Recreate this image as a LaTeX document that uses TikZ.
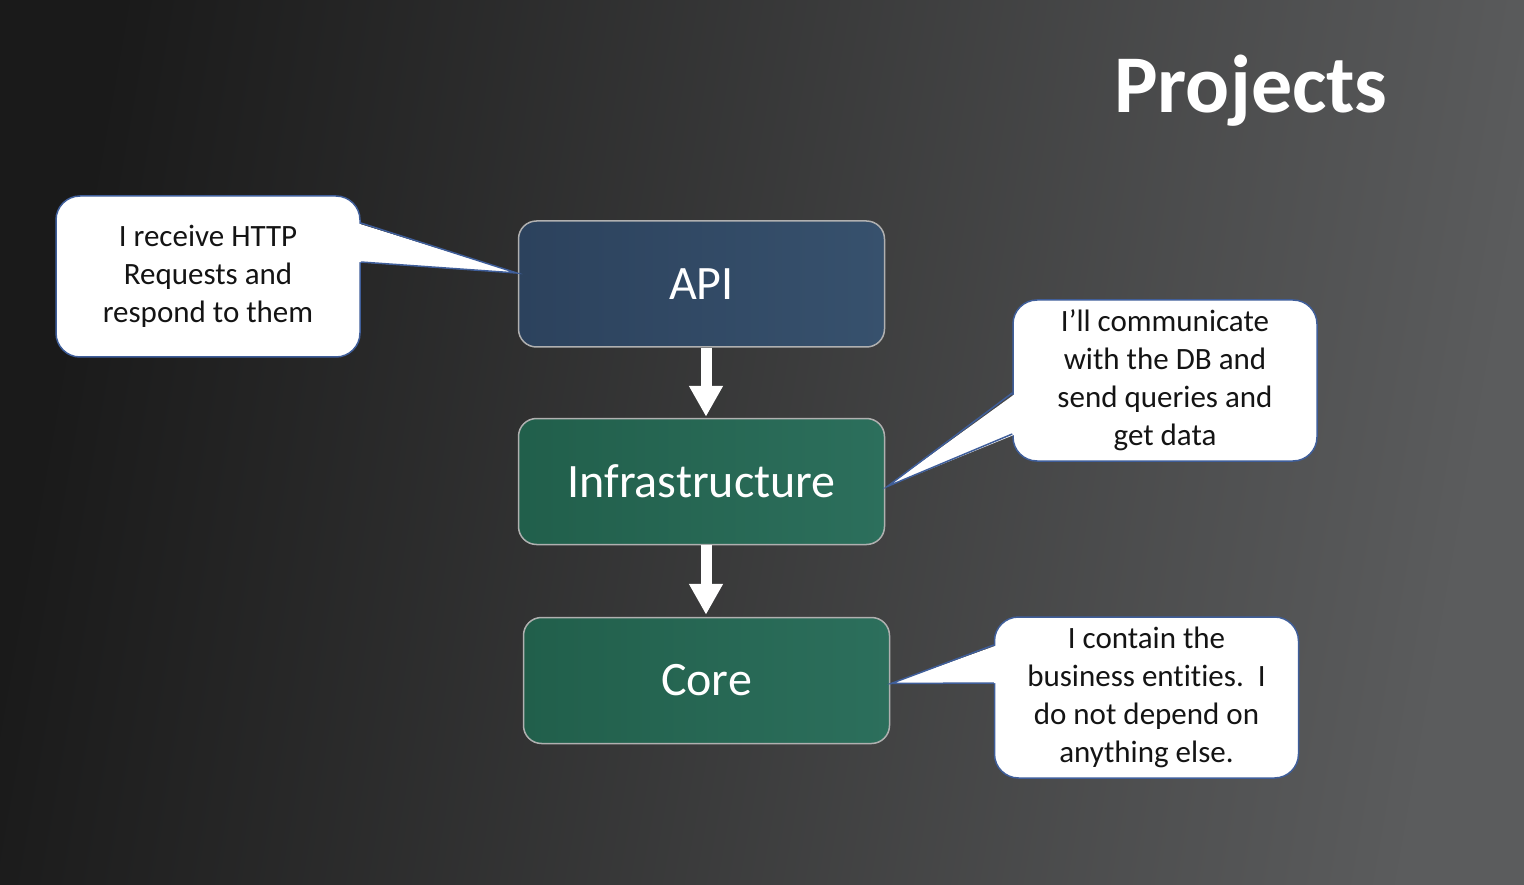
\documentclass[tikz,border=0pt]{standalone}
\usepackage{fontspec}
\setmainfont{Carlito}[Ligatures=NoCommon]
\usetikzlibrary{arrows.meta,calc}
\definecolor{bgdark}{HTML}{1A1A1A}
\definecolor{bglight}{HTML}{5B5C5D}
\definecolor{apiblue}{HTML}{2C425D}
\definecolor{apiblue2}{HTML}{37516D}
\definecolor{layergreen}{HTML}{215F4B}
\definecolor{layergreen2}{HTML}{2C6F5C}
\definecolor{boxedge}{HTML}{B0B0B0}
\definecolor{calloutedge}{HTML}{3F5E9A}
\definecolor{callouttext}{HTML}{141414}

\begin{document}
\begin{tikzpicture}[x=1pt,y=-1pt,
  layer/.style={draw=boxedge, line width=1.5pt, rounded corners=18pt,
    minimum width=366pt, minimum height=126pt, inner sep=0pt,
    text=white, font=\fontsize{48}{58}\selectfont},
  bluelayer/.style={layer, left color=apiblue, right color=apiblue2},
  greenlayer/.style={layer, left color=layergreen, right color=layergreen2},
  callout/.style={draw=calloutedge, fill=white, line width=1.5pt,
    rounded corners=24pt, minimum width=304pt, minimum height=161pt,
    inner sep=0pt, align=center, text=callouttext,
    font=\fontsize{31}{38}\selectfont},
  pointer/.style={draw=calloutedge, line width=1.5pt, line join=miter},
  flow/.style={draw=white, line width=11pt,
    -{Triangle[width=32pt,length=31pt]}}
]
% background
\shade[left color=bgdark, right color=bglight, shading angle=80]
  (0,0) rectangle (1524,885);
\useasboundingbox (0,0) rectangle (1524,885);

% title
\node[anchor=base, text=white, font=\fontsize{82}{98}\selectfont\bfseries]
  (title) at (1251,113) {Projects};

% layers
\node[bluelayer]  (api)   at (701.5,284)   {API};
\node[greenlayer] (infra) at (701.5,481.5) {Infrastructure};
\node[greenlayer] (core)  at (706.5,680.5) {Core};

% dependency arrows
\draw[flow] ($(api.south)+(4.5,0)$) -- ($(infra.north)+(4.5,-1)$);
\draw[flow] ($(infra.south)+(4.5,0)$) -- ($(core.north)+(-0.5,-2)$);

% callouts
\node[callout] (c1) at (208,276.5)  {I receive HTTP\\Requests and\\respond to them};
\node[callout] (c2) at (1165,380.5) {I’ll communicate\\with the DB and\\send queries and\\get data};
\node[callout] (c3) at (1146.5,697.5) {I contain the\\business entities.\ \ I\\do not depend on\\anything else.};

% pointer tips
\coordinate (t1) at ($(api.west)+(-1,-11)$);
\coordinate (t2) at ($(infra.east)+(2,5)$);
\coordinate (t3) at ($(core.east)+(1,3)$);

% pointers
\fill[white] ($(c1.east)+(-4,-53.5)$) -- (t1) -- ($(c1.east)+(-4,-14.5)$) -- cycle;
\draw[pointer] ($(c1.east)+(0,-53.5)$) -- (t1) -- ($(c1.east)+(0,-14.5)$);

\fill[white] ($(c2.west)+(4,12.5)$) -- (t2) -- ($(c2.west)+(4,53.5)$) -- cycle;
\draw[pointer] ($(c2.west)+(0,12.5)$) -- (t2) -- ($(c2.west)+(0,53.5)$);

\fill[white] ($(c3.west)+(4,-52.5)$) -- (t3) -- ($(c3.west)+(4,-14.5)$) -- cycle;
\draw[pointer] ($(c3.west)+(0,-52.5)$) -- (t3) -- ($(c3.west)+(0,-14.5)$);
\end{tikzpicture}
\end{document}
